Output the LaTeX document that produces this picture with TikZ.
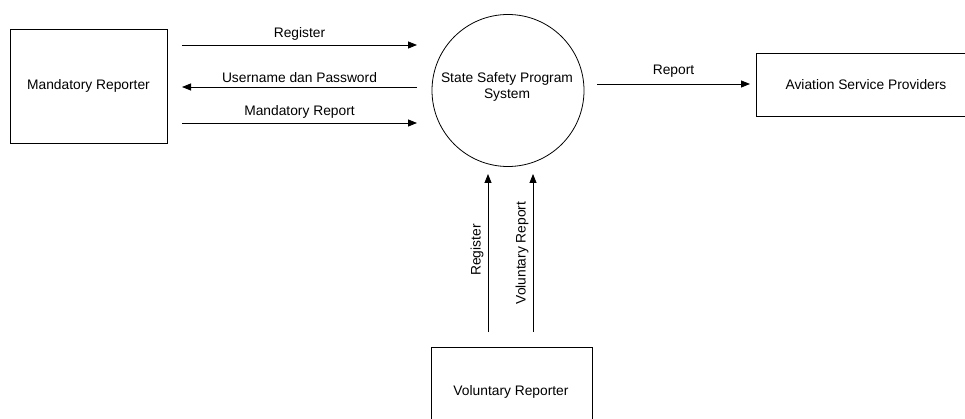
\documentclass[tikz,border=0pt]{standalone}
\usepackage{fontspec}
\setmainfont{Liberation Sans}
\usetikzlibrary{arrows.meta}
\begin{document}
\begin{tikzpicture}[x=1pt,y=-1pt,
  every node/.style={font=\fontsize{13.8}{16}\selectfont},
  entity/.style={draw,line width=0.8pt,rectangle,inner sep=0pt},
  proc/.style={draw,line width=0.8pt,circle,inner sep=0pt,minimum size=152pt,align=center},
  flow/.style={line width=0.8pt,-{Triangle[length=9pt,width=7pt]}},
  lbl/.style={inner sep=1pt}]
\useasboundingbox (0,0) rectangle (965,419);
\clip (0,0) rectangle (965,419);
\fill[white] (0,0) rectangle (965,419);
\node[entity,minimum width=157pt,minimum height=114pt] (mr) at (88.5,86) {Mandatory Reporter};
\node[proc] (ssp) at (508,90.5) {};
\node[align=center] (sspt) at (507,87) {State Safety Program\\System};
\node[entity,minimum width=220pt,minimum height=63pt,anchor=west] (asp) at (756,84.5) {};
\node at (866,84.5) {Aviation Service Providers};
\node[entity,minimum width=161pt,minimum height=90pt,anchor=north west] (vr) at (431,347) {};
\node at (511,392) {Voluntary Reporter};
% left flows
\coordinate (a1s) at (182,45);  \coordinate (a1e) at (417,45);
\coordinate (a2s) at (417,87);  \coordinate (a2e) at (182,87);
\coordinate (a3s) at (182,123); \coordinate (a3e) at (417,123);
\draw[flow] (a1s) -- node[lbl,above=3pt] {Register} (a1e);
\draw[flow] (a2s) -- node[lbl,above=3pt] {Username dan Password} (a2e);
\draw[flow] (a3s) -- node[lbl,above=3pt] {Mandatory Report} (a3e);
% right flow
\coordinate (a4s) at (597,84); \coordinate (a4e) at (750,84);
\draw[flow] (a4s) -- node[lbl,above=5pt] {Report} (a4e);
% vertical flows
\coordinate (v1s) at (488,332); \coordinate (v1e) at (488,174);
\coordinate (v2s) at (533,332); \coordinate (v2e) at (533,174);
\draw[flow] (v1s) -- (v1e);
\draw[flow] (v2s) -- (v2e);
\node[lbl,rotate=90] (l1) at (477,250) {Register};
\node[lbl,rotate=90] (l2) at (522,253) {Voluntary Report};
\end{tikzpicture}
\end{document}
